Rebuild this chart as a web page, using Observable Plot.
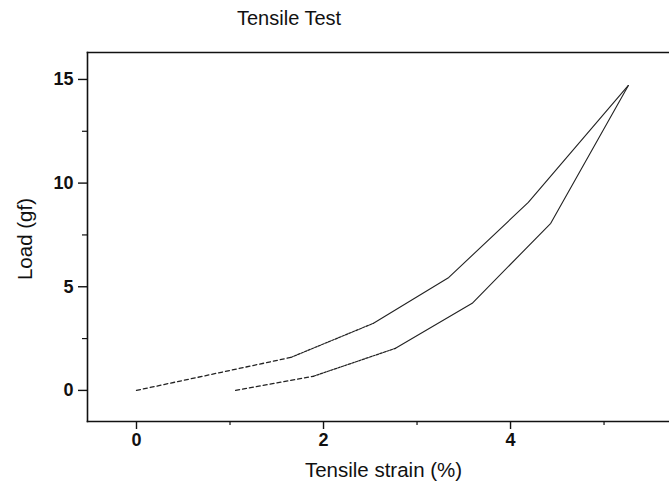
<!DOCTYPE html>
<html>
<head>
<meta charset="utf-8">
<script src="https://cdn.jsdelivr.net/npm/d3@7"></script>
<script src="https://cdn.jsdelivr.net/npm/@observablehq/plot@0.6"></script>
<style>
  html, body { margin: 0; padding: 0; background: #fff; }
  body { width: 669px; height: 487px; overflow: hidden; font-family: "Liberation Sans", Arial, Helvetica, sans-serif; }
  #title { position: relative; height: 40px; }
  #title span { position: absolute; left: 237px; top: 8px; font-size: 20px; line-height: 20px; color: #111; }
  #chart svg { display: block; }
  #chart g[aria-label="x-axis tick label"], #chart g[aria-label="y-axis tick label"] { font-size: 18px; font-weight: bold; }
</style>
</head>
<body>
<div id="title"><span>Tensile Test</span></div>
<div id="chart"></div>
<script>
// Loading curve (upper)
const upperStrain = [0, 1.65, 2.53, 3.34, 4.19, 5.26];
const upperLoad   = [0, 1.59, 3.23, 5.45, 9.07, 14.71];
// Unloading curve (lower)
const lowerStrain = [1.06, 1.89, 2.77, 3.59, 4.43, 5.26];
const lowerLoad   = [0, 0.68, 2.03, 4.20, 8.06, 14.71];

const xMajorTicks = [0, 2, 4];
const xMinorTicks = [1, 3, 5];
const yMajorTicks = [0, 5, 10, 15];
const yMinorTicks = [2.5, 7.5, 12.5];

const xLabel = "Tensile strain (%)";
const yLabel = "Load (gf)";

function toRows(xs, ys, name) {
  return xs.map((x, i) => ({x, y: ys[i], i, series: name}));
}
const rows = [...toRows(upperStrain, upperLoad, "up"), ...toRows(lowerStrain, lowerLoad, "down")];

const seg1 = rows.filter(d => d.i <= 1);
const seg2 = rows.filter(d => d.i >= 1 && d.i <= 2);
const seg3 = rows.filter(d => d.i >= 2);

const chart = Plot.plot({
  width: 669,
  height: 447,
  marginLeft: 87,
  marginRight: 0,
  marginTop: 12,
  marginBottom: 66,
  x: {domain: [-0.524, 5.70]},
  y: {domain: [-1.5, 16.3]},
  style: {fontFamily: "'Liberation Sans', Arial, Helvetica, sans-serif", color: "#111", background: "#fff", overflow: "visible"},
  marks: [
    Plot.frame({anchor: "left", stroke: "#111", strokeWidth: 1.6}),
    Plot.frame({anchor: "top", stroke: "#111", strokeWidth: 1.6}),
    Plot.frame({anchor: "bottom", stroke: "#111", strokeWidth: 1.6}),
    Plot.axisX(xMajorTicks, {tickSize: 8, tickPadding: 4, fontSize: 18, fontWeight: "bold", label: null, strokeWidth: 1.4}),
    Plot.axisX(xMinorTicks, {tickSize: 4, tickFormat: () => "", label: null, strokeWidth: 1.2}),
    Plot.axisY(yMajorTicks, {tickSize: 9, tickPadding: 5, fontSize: 18, fontWeight: "bold", label: null, strokeWidth: 1.4}),
    Plot.axisY(yMinorTicks, {tickSize: 5, tickFormat: () => "", label: null, strokeWidth: 1.2}),
    Plot.line(seg1, {x: "x", y: "y", z: "series", stroke: "#222", strokeWidth: 1.3, strokeDasharray: "4,3"}),
    Plot.line(seg2, {x: "x", y: "y", z: "series", stroke: "#222", strokeWidth: 1.2, strokeDasharray: "2.5,1.2"}),
    Plot.line(seg3, {x: "x", y: "y", z: "series", stroke: "#222", strokeWidth: 1.1}),
    Plot.text([xLabel], {frameAnchor: "bottom", textAnchor: "middle", dx: 5, dy: 55, fontSize: 20.5, fill: "#111", lineAnchor: "bottom"}),
    Plot.text([yLabel], {frameAnchor: "left", textAnchor: "middle", dx: -62, dy: 2, rotate: -90, fontSize: 20.5, fill: "#111"})
  ]
});
document.getElementById("chart").appendChild(chart);
</script>
</body>
</html>
